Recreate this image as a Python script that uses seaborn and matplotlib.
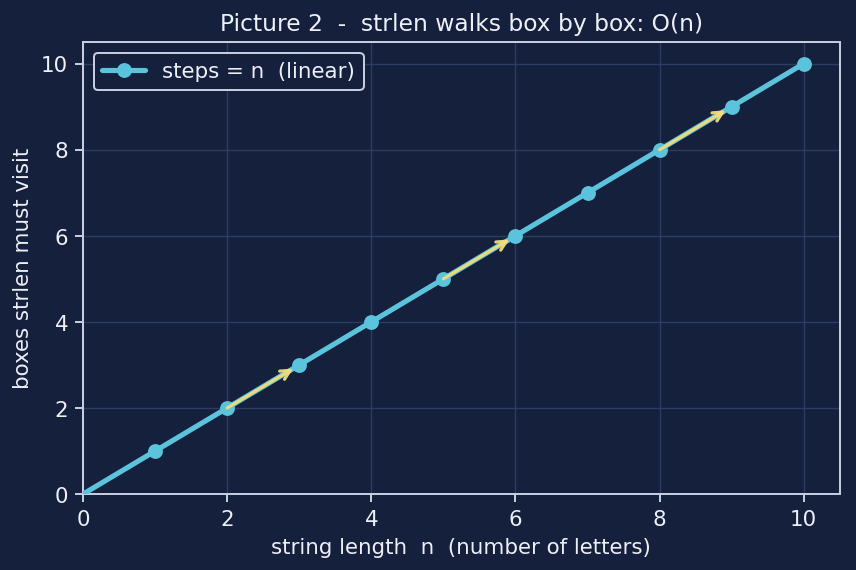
import matplotlib
matplotlib.use("Agg")
import matplotlib.pyplot as plt
import seaborn as sns
import pandas as pd

n_values = [0, 1, 2, 3, 4, 5, 6, 7, 8, 9, 10]
steps = [0, 1, 2, 3, 4, 5, 6, 7, 8, 9, 10]
arrow_starts = [2, 5, 8]
arrow_ends = [3, 6, 9]
x_ticks = [0, 2, 4, 6, 8, 10]
y_ticks = [0, 2, 4, 6, 8, 10]

BG = "#15203d"
FG = "#eef0f8"
LINE = "#5bc3dc"
ARROW = "#f2dc7a"
GRID = "#2c3d63"

sns.set_theme(style="dark")
plt.rcParams.update({
    "figure.facecolor": BG,
    "axes.facecolor": BG,
    "axes.edgecolor": "#c9cde0",
    "text.color": FG,
    "axes.labelcolor": FG,
    "xtick.color": FG,
    "ytick.color": FG,
    "font.family": ["DejaVu Sans"],
})

fig, ax = plt.subplots(figsize=(6, 4), dpi=142.67)
df = pd.DataFrame({"n": n_values, "steps": steps})
sns.lineplot(data=df, x="n", y="steps", ax=ax, color=LINE, linewidth=2.6,
             marker="o", markersize=7.5, markeredgewidth=0, markevery=list(range(1, 11)),
             label="steps = n  (linear)", zorder=3)

for a, b in zip(arrow_starts, arrow_ends):
    ax.annotate("", xy=(b, steps[b]), xytext=(a, steps[a]),
                arrowprops=dict(arrowstyle="->", color=ARROW, lw=1.6, alpha=0.95,
                                shrinkA=0, shrinkB=3.5, mutation_scale=12),
                zorder=4)

ax.set_xlim(0, 10.5)
ax.set_ylim(0, 10.5)
ax.set_xticks(x_ticks)
ax.set_yticks(y_ticks)
ax.grid(True, color=GRID, linewidth=0.7)
ax.tick_params(axis="both", which="both", length=4, width=1, color="#c9cde0", labelsize=10.8, bottom=True, left=True)
for s in ax.spines.values():
    s.set_color("#c9cde0")
    s.set_linewidth(1)
ax.set_xlabel("string length  n  (number of letters)", fontsize=10.8)
ax.set_ylabel("boxes strlen must visit", fontsize=10.8)
ax.set_title("Picture 2  -  strlen walks box by box: O(n)", fontsize=11.8, color=FG)
leg = ax.legend(loc="upper left", fontsize=10.8, facecolor=BG, edgecolor="#c9cde0", framealpha=1)
for t in leg.get_texts():
    t.set_color(FG)

fig.subplots_adjust(left=0.097, right=0.981, top=0.925, bottom=0.133)
fig.savefig("out.png", dpi=142.67, facecolor=BG)
